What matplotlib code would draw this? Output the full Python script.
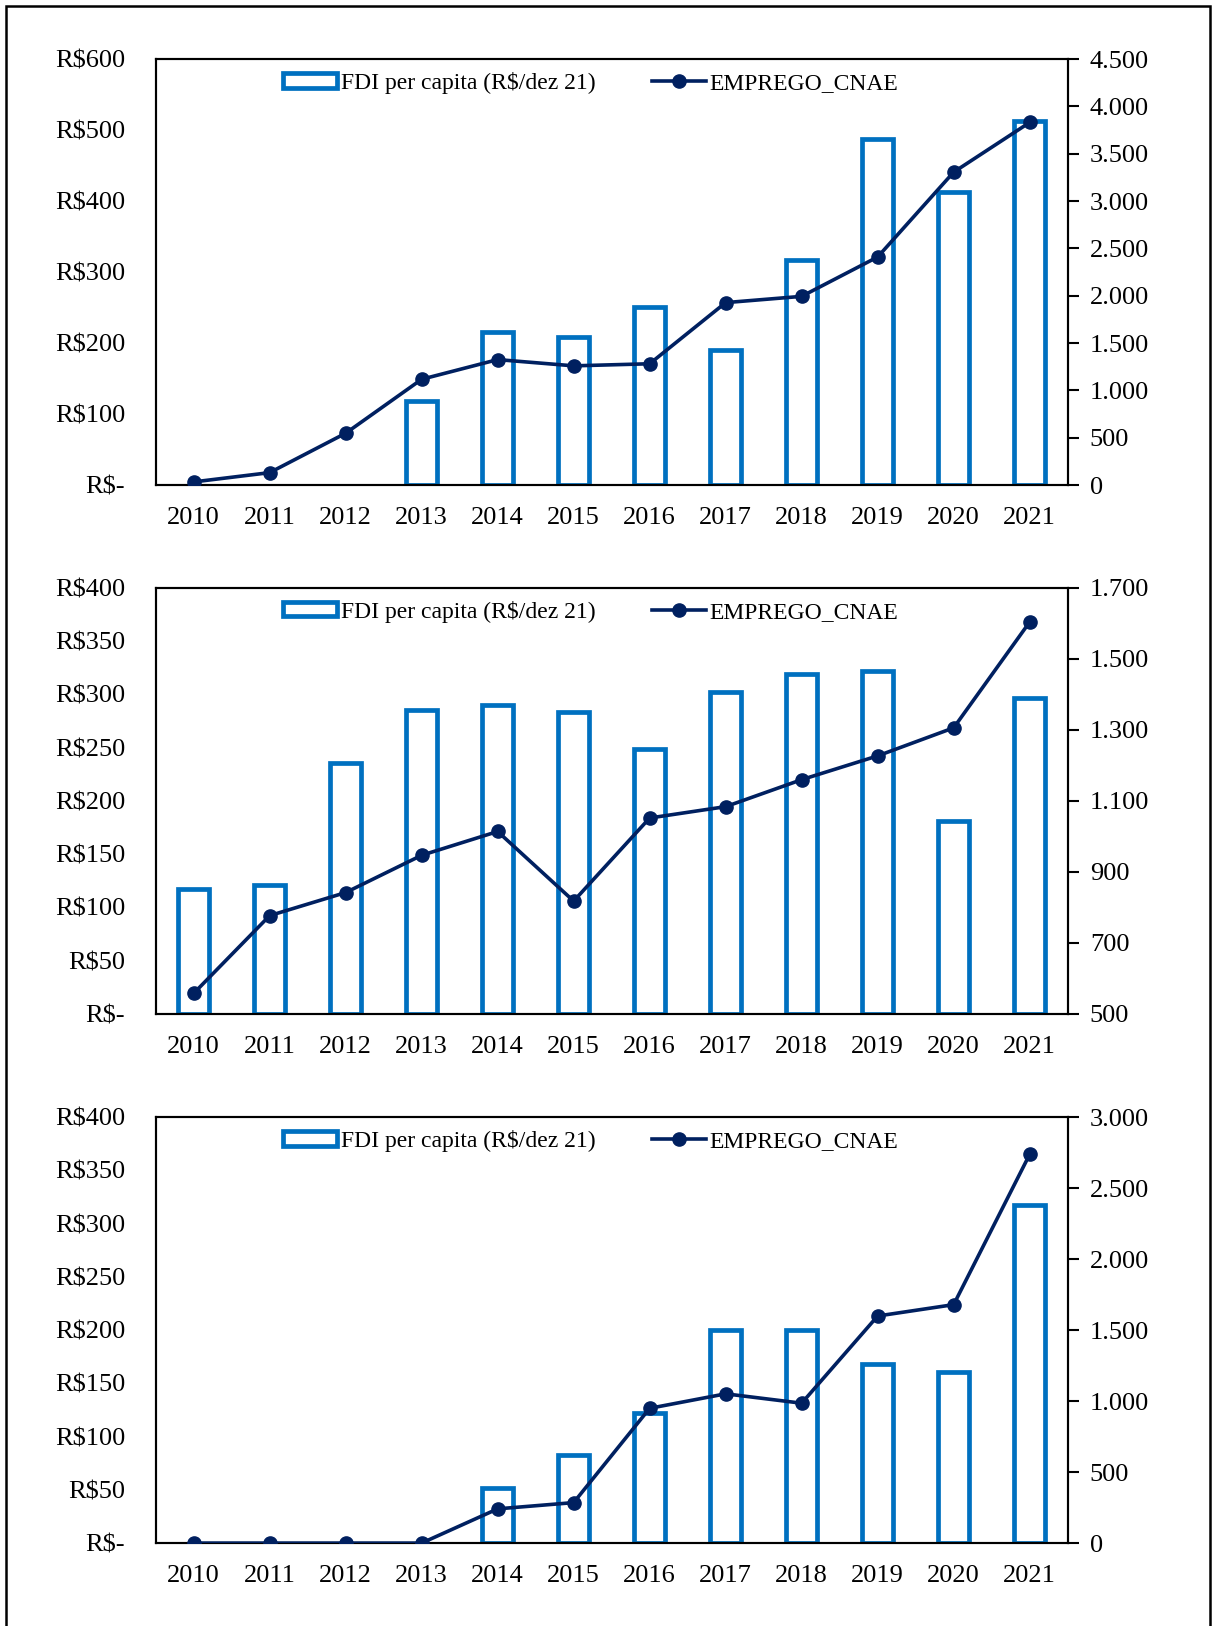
import matplotlib.pyplot as plt
from matplotlib.lines import Line2D
from matplotlib.patches import Patch, Rectangle
from matplotlib.ticker import FixedLocator, FuncFormatter

plt.rcParams["font.family"] = ["Liberation Serif", "DejaVu Serif"]

ANOS = ["2010", "2011", "2012", "2013", "2014", "2015", "2016", "2017", "2018", "2019", "2020", "2021"]

# Painel 1
FDI_1 = [0, 0, 0, 118, 216, 209, 251, 190, 317, 488, 413, 513]
EMPREGO_1 = [33, 131, 547, 1117, 1325, 1259, 1281, 1927, 1993, 2409, 3305, 3830]

# Painel 2
FDI_2 = [117, 121, 236, 285, 290, 284, 249, 302, 319, 322, 181, 297]
EMPREGO_2 = [558, 777, 842, 947, 1014, 818, 1052, 1084, 1160, 1227, 1306, 1604]

# Painel 3
FDI_3 = [0, 0, 0, 0, 52, 83, 122, 200, 200, 168, 161, 317]
EMPREGO_3 = [0, 0, 0, 0, 241, 285, 949, 1051, 985, 1599, 1679, 2737]

AZUL_BARRA = "#0070C0"
AZUL_LINHA = "#002060"
FONTE = 19

PAINEIS = [
    (FDI_1, EMPREGO_1, (0, 600), 100, (0, 4500), 500, [0.9637, 0.7017]),
    (FDI_2, EMPREGO_2, (0, 400), 50, (500, 1700), 200, [0.6384, 0.3764]),
    (FDI_3, EMPREGO_3, (0, 400), 50, (0, 3000), 500, [0.3130, 0.0510]),
]


def formato_reais(v, pos):
    return "R$-" if v == 0 else f"R${int(v)}"


def formato_milhar(v, pos):
    return f"{int(v):,}".replace(",", ".")


def ticks(lim, passo):
    return list(range(lim[0], lim[1] + 1, passo))


def graficar_painel(fig, fdi, emprego, ylim, ypasso, ylim2, ypasso2, topo_base):
    topo, base = topo_base
    ax = fig.add_axes([0.128, base, 0.75, topo - base])
    x = list(range(len(ANOS)))

    # anos sem investimento ficam sem barra
    xb = [i for i, v in zip(x, fdi) if v > 0]
    vb = [v for v in fdi if v > 0]
    ax.bar(xb, vb, width=0.41, facecolor="white", edgecolor=AZUL_BARRA, linewidth=3.4, zorder=2)
    ax.set_xlim(-0.5, len(ANOS) - 0.5)
    ax.set_ylim(*ylim)
    ax.yaxis.set_major_locator(FixedLocator(ticks(ylim, ypasso)))
    ax.yaxis.set_major_formatter(FuncFormatter(formato_reais))
    ax.set_xticks(x)
    ax.set_xticklabels(ANOS)
    ax.tick_params(axis="x", length=0, pad=16, labelsize=FONTE)
    ax.tick_params(axis="y", length=0, pad=22, labelsize=FONTE)

    ax2 = ax.twinx()
    ax2.plot(x, emprego, color=AZUL_LINHA, linewidth=2.6, marker="o", markersize=9.5, zorder=3)
    ax2.set_ylim(*ylim2)
    ax2.yaxis.set_major_locator(FixedLocator(ticks(ylim2, ypasso2)))
    ax2.yaxis.set_major_formatter(FuncFormatter(formato_milhar))
    ax2.tick_params(axis="y", direction="out", length=8, width=1.5, pad=8, labelsize=FONTE)

    for eixo in (ax, ax2):
        for spine in eixo.spines.values():
            spine.set_linewidth(1.5)

    handles = [
        Patch(facecolor="white", edgecolor=AZUL_BARRA, linewidth=3.4),
        Line2D([], [], color=AZUL_LINHA, linewidth=2.6, marker="o", markersize=9.5),
    ]
    ax2.legend(handles, ["FDI per capita (R$/dez 21)", "EMPREGO_CNAE"], loc="upper center",
               bbox_to_anchor=(0.477, 1.02), ncol=2, frameon=False, fontsize=17,
               handlelength=2.3, handleheight=0.55, handletextpad=0.15, columnspacing=2.4)


def main():
    fig = plt.figure(figsize=(12.16, 16.26), dpi=100)

    # moldura em volta da figura
    fig.patches.append(Rectangle((6 / 1216, -0.01), 1204 / 1216, 1.01 - 6 / 1626,
                                 transform=fig.transFigure, fill=False,
                                 edgecolor="black", linewidth=1.8))

    for fdi, emprego, ylim, ypasso, ylim2, ypasso2, topo_base in PAINEIS:
        graficar_painel(fig, fdi, emprego, ylim, ypasso, ylim2, ypasso2, topo_base)

    fig.savefig("out.png", dpi=100)


if __name__ == "__main__":
    main()
